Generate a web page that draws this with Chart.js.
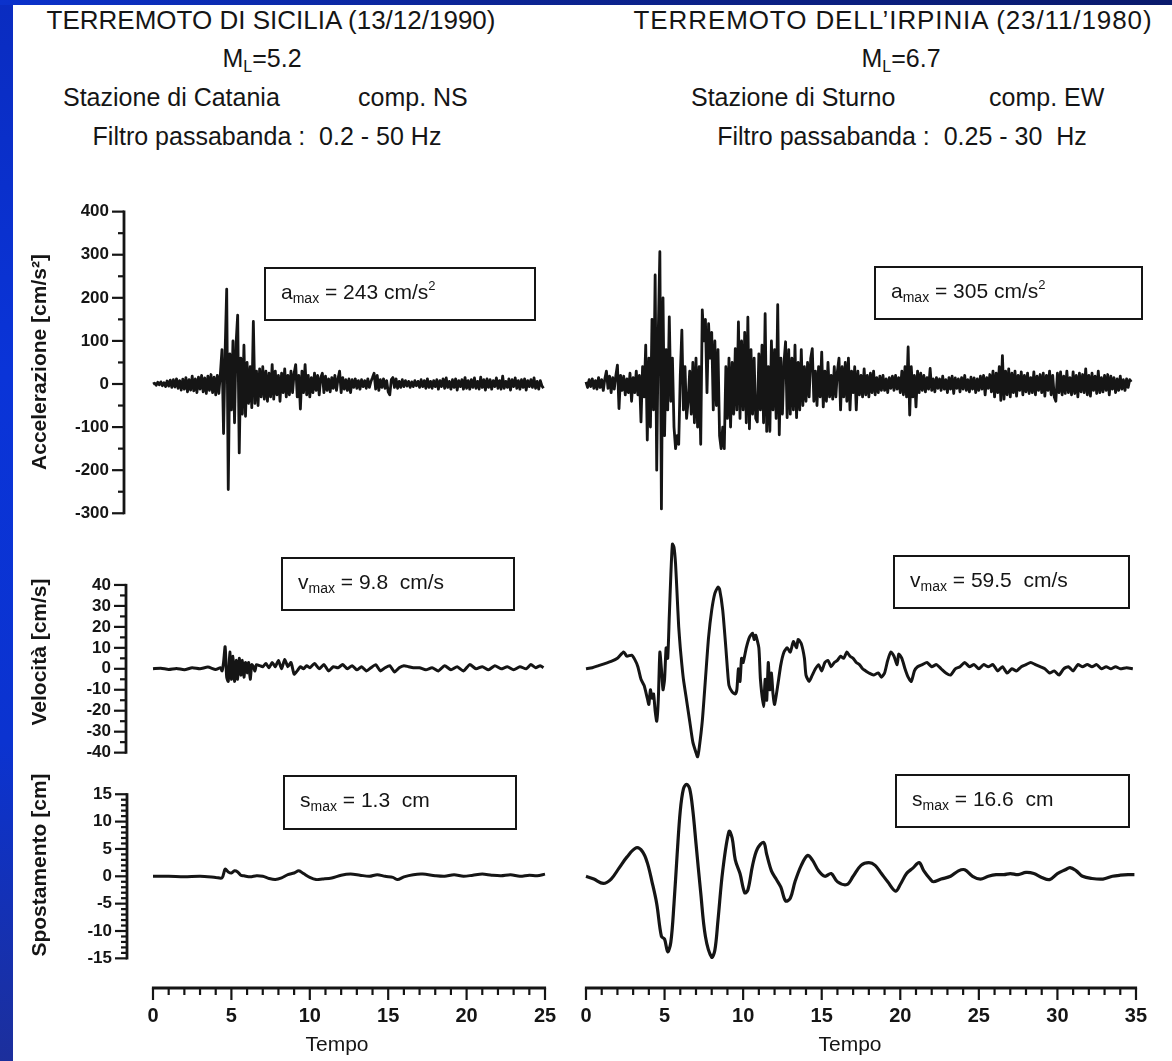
<!DOCTYPE html>
<html><head><meta charset="utf-8">
<script src="https://cdn.jsdelivr.net/npm/chart.js@4.4.1/dist/chart.umd.min.js"></script>
<style>
html,body{margin:0;padding:0;}
body{width:1172px;height:1061px;position:relative;overflow:hidden;background:#fff;font-family:"Liberation Sans",Arial,sans-serif;color:#151515;}
.stripe{position:absolute;left:0;top:0;width:13px;height:1061px;background:linear-gradient(to bottom,#0a2cc0,#0a34d8 35%,#0b33d0 70%,#1c2f9c);}
.band{position:absolute;left:0;top:0;width:1172px;height:5px;background:linear-gradient(to right,#0b32cc,#0c2596 40%,#0a1a6c);}
canvas{position:absolute;}
.t{position:absolute;white-space:nowrap;line-height:1;font-size:25px;}
.ti{font-size:26px;}
.c{transform:translateX(-50%);}
.box{position:absolute;border:2px solid #151515;box-sizing:border-box;}
.box span{position:absolute;left:15px;top:12px;white-space:nowrap;line-height:1;font-size:21px;}
sub{font-size:14px;vertical-align:-4px;line-height:0;}
.t sub{font-size:16px;vertical-align:-5px;}
sup{font-size:13px;vertical-align:9px;line-height:0;}
</style>
</head>
<body>
<div class="stripe"></div><div class="band"></div>

<div class="t ti c" style="left:271px;top:7px">TERREMOTO DI SICILIA (13/12/1990)</div>
<div class="t c" style="left:262px;top:46px">M<sub>L</sub>=5.2</div>
<div class="t" style="left:63px;top:85px">Stazione di Catania</div>
<div class="t" style="left:358px;top:85px">comp. NS</div>
<div class="t c" style="left:267px;top:124px">Filtro passabanda :&nbsp; 0.2 - 50 Hz</div>

<div class="t ti c" style="left:893px;top:7px;letter-spacing:0.9px">TERREMOTO DELL’IRPINIA (23/11/1980)</div>
<div class="t c" style="left:901px;top:46px">M<sub>L</sub>=6.7</div>
<div class="t" style="left:691px;top:85px">Stazione di Sturno</div>
<div class="t" style="left:989px;top:85px">comp. EW</div>
<div class="t c" style="left:902px;top:124px">Filtro passabanda :&nbsp; 0.25 - 30&nbsp; Hz</div>

<canvas id="accS" width="562" height="324" style="left:0;top:200px"></canvas>
<canvas id="velS" width="562" height="244" style="left:0;top:530px"></canvas>
<canvas id="dispS" width="562" height="319" style="left:0;top:742px"></canvas>
<canvas id="accI" width="610" height="324" style="left:562px;top:200px"></canvas>
<canvas id="velI" width="610" height="244" style="left:562px;top:530px"></canvas>
<canvas id="dispI" width="610" height="319" style="left:562px;top:742px"></canvas>

<div class="box" style="left:264px;top:267px;width:272px;height:54px"><span>a<sub>max</sub> = 243 cm/s<sup>2</sup></span></div>
<div class="box" style="left:874px;top:266px;width:269px;height:54px"><span>a<sub>max</sub> = 305 cm/s<sup>2</sup></span></div>
<div class="box" style="left:281px;top:557px;width:234px;height:54px"><span>v<sub>max</sub> = 9.8&nbsp; cm/s</span></div>
<div class="box" style="left:893px;top:555px;width:237px;height:54px"><span>v<sub>max</sub> = 59.5&nbsp; cm/s</span></div>
<div class="box" style="left:283px;top:775px;width:234px;height:55px"><span>s<sub>max</sub> = 1.3&nbsp; cm</span></div>
<div class="box" style="left:895px;top:774px;width:235px;height:54px"><span>s<sub>max</sub> = 16.6&nbsp; cm</span></div>

<script>
// ---------------- DATA ----------------
const accDt = 0.1;
const accStart = 0;
// Sicilia 13/12/1990 – Catania NS, acceleration [cm/s^2], 0.0 … 24.9 s
const accSicilia = [
 0, 2, -3, 4, -2, 5, -4, 3, -6, 7,
 -5, 9, -8, 10, -7, 12, -10, 8, -14, 11,
 -12, 15, -18, 10, -14, 18, -16, 12, -20, 16,
 -12, 20, -18, 14, -22, 18, -15, 22, -20, 16,
 -25, 20, -22, 25, 80, -115, 75, 220, -245, 70,
 -60, 100, -90, 95, 160, -160, 60, -70, 90, -75,
 50, -45, 40, -55, 145, -45, 30, -50, 35, -30,
 40, -35, 30, -40, 25, -30, 45, -35, 30, -25,
 20, -40, 25, -20, 35, -30, 20, -25, 30, -20,
 25, 45, -30, 20, -58, 30, -20, 45, -25, 20,
 -30, 15, -20, 25, -15, 20, -25, 15, 25, -20,
 18, -15, 12, -18, 15, -10, 20, -15, 12, 30,
 -20, 15, -12, 10, -15, 12, -20, 10, -8, 12,
 -10, 8, -12, 10, -6, 8, -10, 12, -8, 6,
 15, 25, -12, 20, -15, 10, -8, 12, -10, 8,
 -18, -25, 10, 15, -8, 12, -10, 6, -8, 10,
 -6, 8, -5, 6, -8, 5, -6, 8, -4, 6,
 -8, 10, -6, 8, -10, 12, -8, 6, -10, 8,
 -6, 10, -12, 8, -6, 12, -10, 14, -8, 6,
 -12, 10, -8, 12, -14, 8, -6, 10, -12, 15,
 -10, 8, -12, 10, -8, 14, -10, 6, -12, 16,
 -8, 10, -14, 12, -8, 10, -12, 8, -6, 14,
 -10, 8, -12, 18, -10, 6, -8, 12, -14, 10,
 -6, 14, -10, 8, -12, 10, -8, 12, -14, 8,
 -6, 10, -8, 14, -10, 6, -12, 8, -4, -10
];
// Irpinia 23/11/1980 – Sturno EW, acceleration [cm/s^2], 0.0 … 34.7 s
const accIrpinia = [
 5, -8, 10, -6, 12, -10, 8, -12, 15, -8,
 10, -15, 12, 30, -10, 18, -20, 15, -12, 20,
 44, -57, 20, -15, 18, -25, 12, -20, 25, -40,
 15, -20, 30, -25, 20, -88, 40, -30, 90, -130,
 60, -100, 150, -60, 253, -200, 120, 307, -290, 200,
 -120, 80, -60, 156, -40, 60, -100, -150, -120, -140,
 20, 125, -60, 40, -80, -40, 30, -70, 50, -90,
 60, -100, 40, -140, 172, 100, 150, -20, 140, 60,
 120, -60, 100, -50, 80, -120, -150, -100, -150, 40,
 -80, 60, -100, 50, -70, 82, -60, 144, -80, 100,
 -60, 120, -90, 155, -104, 80, -70, 60, -80, -88,
 70, -60, 90, -90, 163, -110, 40, -110, 100, -60,
 80, -80, 184, -118, 60, -70, 50, 98, -78, 80,
 -70, 60, -60, 90, -78, 50, -60, 80, -50, 40,
 -40, 50, -30, 60, 82, -40, 30, -50, 40, -30,
 74, -53, 30, -40, 50, -30, 20, -35, 40, -30,
 30, 60, -60, 40, -30, 50, -40, 60, -60, 30,
 -20, 40, -60, 30, -25, 20, -30, 35, -25, 20,
 -30, 25, -20, 30, -25, 15, -20, 18, -15, 20,
 -15, 12, -20, 15, -10, 18, -15, 20, -12, 15,
 -20, 30, -25, 40, -30, 86, -72, 40, -30, 20,
 -53, 30, -20, 25, -15, 20, -18, 15, -12, 36,
 -15, 12, -18, 15, -10, 12, -15, 18, -12, 10,
 -20, 15, -12, 18, -22, 14, -10, 12, -18, 15,
 -12, 20, -15, 10, -18, 16, -12, 14, -20, 12,
 -15, 18, -12, 20, -25, 15, -10, 22, -18, 30,
 -30, 25, -20, 40, -38, 66, -35, 30, -25, 35,
 -30, 25, -20, 30, -28, 20, -15, 28, -25, 20,
 -18, 25, -22, 15, -20, 28, -25, 18, -15, 22,
 -20, 25, -28, 20, -15, 30, -25, 20, -30, -40,
 25, -20, 28, -25, 18, -22, 30, -20, 15, -25,
 28, -22, 20, -30, 25, -18, 22, -20, 35, -25,
 20, -28, 25, -15, 18, -22, 30, -20, 15, -18,
 20, -15, 22, -25, 18, -12, 15, -20, 12, -15,
 18, -12, 10, -15, 12, -8, 10, 5
];
// velocity [cm/s]
const velSiciliaT = [0,0.5,1,1.5,2,2.5,3,3.5,4,4.3,
 4.4,4.5,4.6,4.7,4.8,4.9,5,5.1,5.2,5.3,5.4,5.5,5.6,5.7,5.8,5.9,6,6.1,6.2,6.3,6.4,6.5,6.6,
 6.8,7,7.2,7.4,7.6,7.8,8,8.2,8.4,8.6,8.8,9,9.2,9.4,9.6,9.8,10,
 10.3,10.6,10.9,11.2,11.5,11.8,12.1,12.4,12.7,13,13.3,13.6,13.9,14.2,14.5,14.8,15.1,15.4,15.7,16,16.3,16.6,
 17,17.4,17.8,18.2,18.6,19,19.4,19.8,20.2,20.6,21,21.4,21.8,22.2,22.6,23,23.4,23.8,
 24.1,24.4,24.7,24.9];
const velSiciliaV = [0,0.3,-0.3,0.2,-0.5,0.5,0,0.8,-0.3,0.5,
 -1,3,10.5,-4,-6,8,-5,6,-6,4,-5,5,-3,4,-4,3,-2,3,-5,2,1,-1,2,
 1.5,1,2.5,0.5,3,1,4,0,4.5,1,3,-2.5,-1,1,0,1.5,0.5,
 2.5,0,2,-1,1,0.5,2,0,1.5,-0.5,1,-1,0.5,2,-1,0.5,1.5,-1.5,0.5,1.5,1,0.5,
 0.5,-0.5,0.5,-1,1.5,-0.5,1,-1,2,0,1,-0.5,1.5,0,1,-0.5,1,0,
 2,0.5,1.5,0.5];
const velIrpiniaT = [0,0.4,0.8,1.2,1.6,2.0,2.4,2.6,2.9,3.1,3.3,3.5,3.7,3.9,4.0,4.1,4.2,4.3,4.4,4.5,4.6,4.7,4.8,4.9,
 5.0,5.1,5.2,5.3,5.4,5.5,5.6,5.7,5.8,5.9,6.0,6.1,6.2,6.4,6.6,6.8,7.0,7.1,7.2,7.4,7.6,7.8,8.0,8.2,8.4,8.5,8.7,8.9,
 9.0,9.1,9.3,9.5,9.6,9.7,9.8,9.9,10.0,10.2,10.4,10.6,10.7,10.8,11.0,11.1,11.3,11.4,11.5,11.6,11.7,11.8,11.9,
 12.0,12.2,12.4,12.6,12.8,13.0,13.2,13.4,13.5,13.7,13.9,14.0,14.2,14.4,14.6,14.8,15.0,15.2,15.4,15.6,15.8,
 16.0,16.2,16.4,16.6,16.8,17.0,17.2,17.4,17.6,17.8,18.0,18.3,18.6,18.8,19.0,19.2,19.4,19.6,19.8,19.9,
 20.1,20.3,20.5,20.7,20.9,21.1,21.4,21.7,22.0,22.3,22.6,22.9,23.2,23.5,23.8,24.1,24.4,24.7,
 25.0,25.3,25.6,25.9,26.2,26.5,26.8,27.1,27.4,27.7,28.0,28.3,28.6,28.9,29.2,29.5,29.8,
 30.1,30.4,30.7,31.0,31.3,31.6,31.9,32.2,32.5,32.8,33.1,33.4,33.7,34.0,34.4,34.8];
const velIrpiniaV = [0,0.5,1.5,2.5,3.5,5,8,6,6.5,4.5,1,-5,-8,-14,-17,-10,-14,-12,-20,-25,-15,8,0,-10,
 -5,10,5,25,45,59.5,58,50,35,20,10,2,-5,-15,-25,-35,-40,-42,-38,-25,-5,15,28,36,39,38,28,10,
 0,-8,-11,-12,-10,0,-6,5,3,10,15,17,14,16,10,-5,-18,-5,-15,3,-10,-2,-12,
 -17,-8,2,8,10,8,13,10,14,12,5,-3,-6,-3,0,2,-1,3,4,1,3,
 4,6,5,8,6,5,3,2,0,-1,-2,-3,-2,-4,-2,4,8,6,2,7,
 5,0,-4,-6,-1,1,2,3,1,2,0,-2,-3,0,1,3,1,2,
 0,2,1,2,-1,1,-2,0,-1,1,2,3,2,1,0,-2,-1,
 -3,0,1,-1,2,1,2,1,2,0,1,0,1,0,0.5,0];
// displacement [cm]
const dispSiciliaT = [0,1,2,3,4,4.4,4.6,4.8,5.0,5.2,5.4,5.6,5.8,6.2,6.6,7.0,7.4,7.8,8.2,8.6,9.0,9.3,9.6,10.0,10.4,10.8,
 11.4,12.0,12.6,13.2,13.8,14.3,14.8,15.3,15.6,16.0,16.6,17.2,18.0,18.6,19.2,19.8,20.4,21.0,21.6,22.2,22.8,23.4,24.0,24.5,25.0];
const dispSiciliaV = [0,0,-0.1,0,-0.2,-0.3,1.3,0.8,0.6,1.0,0.8,0.2,0.1,-0.1,0.1,0,-0.4,-0.6,-0.3,0.3,0.6,1.0,0.5,-0.2,-0.6,-0.5,
 -0.3,0.2,0.4,0.2,0,0.3,0,-0.2,-0.6,-0.1,0.3,0.4,0.1,0,0.3,0,0.2,0.4,0.2,0.1,0.3,0,0.2,0.1,0.4];
const dispIrpiniaT = [0,0.5,1.1,1.6,2.1,2.6,3.2,3.6,3.9,4.2,4.5,4.8,5.0,5.2,5.4,5.6,5.8,6.0,6.2,6.4,6.6,6.8,7.0,7.3,7.6,8.0,
 8.2,8.4,8.7,9.1,9.3,9.5,9.8,10.1,10.3,10.6,10.9,11.3,11.5,11.8,12.1,12.4,12.7,13.0,13.3,13.7,14.1,14.4,14.8,15.2,
 15.6,16.0,16.6,17.0,17.5,18.0,18.4,18.8,19.2,19.7,20.0,20.4,20.8,21.2,21.5,21.9,22.1,22.6,23.2,23.7,24.1,24.6,
 25.1,25.6,26.1,26.6,27.0,27.5,28.0,28.5,29.0,29.5,30.0,30.5,30.8,31.2,31.6,32.2,32.9,33.5,34.0,34.5,34.9];
const dispIrpiniaV = [0,-0.5,-1.3,-0.5,1.5,3.5,5.2,4.5,2.5,-1,-5,-11,-11.5,-13.8,-12,-5,4,12,16,16.8,16,12,6,-3,-11,-14.8,
 -13.5,-8,1,8.2,7,3,0.5,-3,-2.5,2,5,6.2,4,1,-0.5,-2,-4.5,-4,-1,2,3.8,3,1,0,
 0.5,-1,-1.5,0,2,2.5,2,0.5,-1,-2.7,-1.5,0.5,1.5,2.5,1,-0.5,-1,-0.5,0,1,1.2,0,
 -0.5,0,0.3,0.3,0.5,0.3,0.7,0.5,-0.2,-0.6,0.5,1.2,1.6,1,0,-0.4,-0.5,0,0.2,0.3,0.3];
// tick labels
const timeTicksLeft = [0,5,10,15,20,25];
const timeTicksRight = [0,5,10,15,20,25,30,35];
const accTicks = [-300,-200,-100,0,100,200,300,400];
const velTicks = [-40,-30,-20,-10,0,10,20,30,40];
const dispTicks = [-15,-10,-5,0,5,10,15];

// ---------------- LAYOUT ----------------
const FONT = '"Liberation Sans", Arial, sans-serif';
const INK = '#151515';
const COLS = {
  left:  {canvasLeft:0,   canvasW:562, areaRight:547,  t0px:153, pps:15.68,  ticks:timeTicksLeft,  tmax:25},
  right: {canvasLeft:562, canvasW:610, areaRight:1138, t0px:586, pps:15.714, ticks:timeTicksRight, tmax:35}
};
const ROWS = {
  acc:  {top:200, height:324, zeroPx:384,   ppu:0.4309, axisH:0,  ticks:accTicks,  from:-300, to:400, major:100, minor:50, title:'Accelerazione [cm/s²]'},
  vel:  {top:530, height:244, zeroPx:668.8, ppu:2.096,  axisH:0,  ticks:velTicks,  from:-40,  to:40,  major:10,  minor:5,  title:'Velocità [cm/s]'},
  disp: {top:742, height:319, zeroPx:876.3, ppu:5.47,   axisH:73, ticks:dispTicks, from:-15,  to:15,  major:5,   minor:1,  title:'Spostamento [cm]'}
};

const axisDecor = {
  id: 'axisDecor',
  afterDraw(chart, args, opts) {
    const ctx = chart.ctx, area = chart.chartArea;
    ctx.save();
    ctx.strokeStyle = INK;
    ctx.lineCap = 'butt';
    for (const key of ['x', 'y']) {
      const d = opts[key];
      if (!d) continue;
      const s = chart.scales[key];
      const n = Math.round((d.to - d.from) / d.minor);
      ctx.lineWidth = d.tickWidth;
      for (let i = 0; i <= n; i++) {
        const v = d.from + i * d.minor;
        const r = v / d.major;
        const isMajor = Math.abs(r - Math.round(r)) < 1e-6;
        const len = isMajor ? d.majorLen : d.minorLen;
        const p = s.getPixelForValue(v);
        ctx.beginPath();
        if (key === 'y') { ctx.moveTo(area.left, p); ctx.lineTo(area.left - len, p); }
        else { ctx.moveTo(p, area.bottom); ctx.lineTo(p, area.bottom + len); }
        ctx.stroke();
      }
      const p0 = s.getPixelForValue(d.from), p1 = s.getPixelForValue(d.to);
      ctx.lineWidth = d.lineWidth;
      ctx.beginPath();
      if (key === 'y') { ctx.moveTo(area.left, p0 + d.tickWidth / 2); ctx.lineTo(area.left, p1 - d.tickWidth / 2); }
      else { ctx.moveTo(p0 - d.tickWidth / 2, area.bottom); ctx.lineTo(p1 + d.tickWidth / 2, area.bottom); }
      ctx.stroke();
    }
    ctx.restore();
  }
};

function zip(ts, vs) {
  const n = Math.min(ts.length, vs.length), out = [];
  for (let i = 0; i < n; i++) out.push({x: ts[i], y: vs[i]});
  return out;
}
function uniform(start, dt, vs) {
  return vs.map((v, i) => ({x: +(start + i * dt).toFixed(3), y: v}));
}

function panel(id, colKey, rowKey, points, areaLeft, opt) {
  const col = COLS[colKey], row = ROWS[rowKey];
  const showY = colKey === 'left';
  const showX = rowKey === 'disp';
  const areaBottomPage = row.top + row.height - (showX ? row.axisH : 0);
  const yMax = (row.zeroPx - row.top) / row.ppu;
  const yMin = (row.zeroPx - areaBottomPage) / row.ppu;
  const xMin = (areaLeft - col.t0px) / col.pps;
  const xMax = (col.areaRight - col.t0px) / col.pps;
  const yW = areaLeft - col.canvasLeft;
  const padRight = col.canvasLeft + col.canvasW - col.areaRight;
  const decor = {};
  if (showY) decor.y = {from: row.from, to: row.to, major: row.major, minor: row.minor, majorLen: 12, minorLen: 6, lineWidth: 2.8, tickWidth: 2.2};
  if (showX) decor.x = {from: 0, to: col.tmax, major: 5, minor: 1, majorLen: 12, minorLen: 7, lineWidth: 2.8, tickWidth: 2.2};
  const hiddenGrid = {display: true, drawOnChartArea: false, drawTicks: true, color: 'rgba(0,0,0,0)'};
  return new Chart(document.getElementById(id), {
    type: 'line',
    data: {datasets: [{data: points, borderColor: INK, borderWidth: opt.width, pointRadius: 0, tension: opt.tension, fill: false, borderJoinStyle: 'round'}]},
    options: {
      responsive: false, animation: false, events: [],
      layout: {padding: {left: 0, top: 0, bottom: 0, right: padRight}},
      plugins: {legend: {display: false}, tooltip: {enabled: false}, axisDecor: decor},
      scales: {
        x: {
          type: 'linear', min: xMin, max: xMax, display: showX,
          afterBuildTicks: s => { s.ticks = col.ticks.map(v => ({value: v})); },
          afterFit: s => { s.height = row.axisH; s.paddingLeft = 0; s.paddingRight = 0; },
          grid: Object.assign({tickLength: 12}, hiddenGrid),
          border: {display: false},
          ticks: {autoSkip: false, maxRotation: 0, minRotation: 0, padding: 4, color: INK, font: {family: FONT, size: 20, weight: 'bold'}, callback: v => String(v)},
          title: {display: true, text: 'Tempo', color: INK, font: {family: FONT, size: 21}, padding: {top: 0, bottom: 3.4}}
        },
        y: {
          type: 'linear', position: 'left', min: yMin, max: yMax, display: showY,
          afterBuildTicks: s => { s.ticks = row.ticks.map(v => ({value: v})); },
          afterFit: s => { s.width = yW; s.paddingTop = 0; s.paddingBottom = 0; },
          grid: Object.assign({tickLength: 12}, hiddenGrid),
          border: {display: false},
          ticks: {autoSkip: false, padding: 3, color: INK, font: {family: FONT, size: 17, weight: 'bold'}, callback: v => String(v)},
          title: {display: true, text: row.title, color: INK, font: {family: FONT, size: 21, weight: 'bold'}, padding: {top: 27.4, bottom: 0}}
        }
      }
    },
    plugins: [axisDecor]
  });
}

panel('accS',  'left',  'acc',  uniform(accStart, accDt, accSicilia), 124, {width: 2.8, tension: 0});
panel('velS',  'left',  'vel',  zip(velSiciliaT, velSiciliaV), 126, {width: 3, tension: 0.2});
panel('dispS', 'left',  'disp', zip(dispSiciliaT, dispSiciliaV), 127, {width: 3, tension: 0.3});
panel('accI',  'right', 'acc',  uniform(accStart, accDt, accIrpinia), 562, {width: 2.8, tension: 0});
panel('velI',  'right', 'vel',  zip(velIrpiniaT, velIrpiniaV), 562, {width: 3, tension: 0.2});
panel('dispI', 'right', 'disp', zip(dispIrpiniaT, dispIrpiniaV), 562, {width: 3.2, tension: 0.35});
</script>
</body></html>
